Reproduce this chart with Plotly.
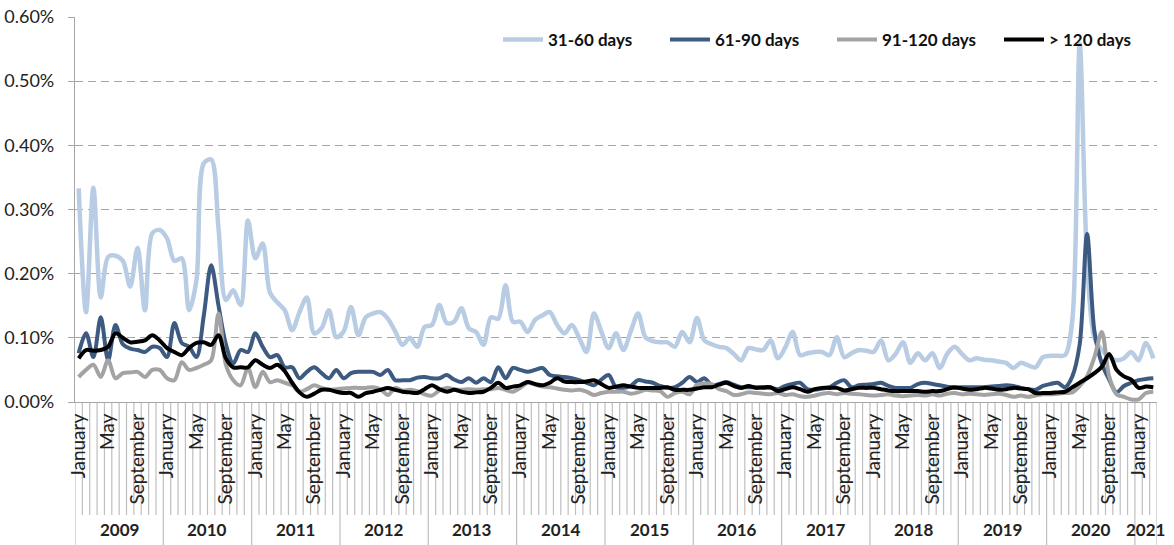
import plotly.graph_objects as go

# ---------------- data ----------------
years = list(range(2009, 2022))
month_names = ["January", "February", "March", "April", "May", "June", "July",
               "August", "September", "October", "November", "December"]
n_months = 147  # January 2009 .. March 2021

series_names = ["31-60 days", "61-90 days", "91-120 days", "> 120 days"]

d31_60 = [
    0.333, 0.140, 0.334, 0.163, 0.226, 0.228, 0.220, 0.180, 0.240, 0.143, 0.263, 0.268,
    0.255, 0.220, 0.224, 0.143, 0.190, 0.372, 0.378, 0.270, 0.159, 0.174, 0.151, 0.283,
    0.224, 0.247, 0.170, 0.155, 0.143, 0.112, 0.140, 0.163, 0.107, 0.115, 0.143, 0.101,
    0.110, 0.148, 0.104, 0.132, 0.138, 0.140, 0.130, 0.110, 0.089, 0.100, 0.086, 0.117,
    0.120, 0.151, 0.123, 0.125, 0.146, 0.115, 0.109, 0.089, 0.132, 0.130, 0.182, 0.125,
    0.125, 0.109, 0.128, 0.135, 0.140, 0.120, 0.107, 0.120, 0.100, 0.078, 0.138, 0.110,
    0.084, 0.107, 0.081, 0.110, 0.138, 0.101, 0.095, 0.093, 0.093, 0.086, 0.109, 0.093,
    0.131, 0.096, 0.090, 0.086, 0.084, 0.075, 0.065, 0.084, 0.082, 0.081, 0.096, 0.068,
    0.085, 0.109, 0.073, 0.076, 0.078, 0.078, 0.073, 0.101, 0.070, 0.076, 0.081, 0.080,
    0.078, 0.096, 0.065, 0.075, 0.093, 0.061, 0.076, 0.065, 0.076, 0.053, 0.075, 0.086,
    0.075, 0.065, 0.068, 0.066, 0.065, 0.063, 0.061, 0.053, 0.061, 0.057, 0.054, 0.070,
    0.072, 0.072, 0.073, 0.128, 0.558, 0.220, 0.100, 0.081, 0.070, 0.065, 0.068, 0.078,
    0.065, 0.092, 0.068,
]

d61_90 = [
    0.076, 0.107, 0.070, 0.132, 0.065, 0.120, 0.090, 0.083, 0.081, 0.078, 0.086, 0.084,
    0.070, 0.123, 0.092, 0.086, 0.070, 0.135, 0.213, 0.150, 0.090, 0.060, 0.081, 0.078,
    0.107, 0.086, 0.070, 0.073, 0.054, 0.054, 0.037, 0.047, 0.054, 0.045, 0.037, 0.050,
    0.037, 0.045, 0.047, 0.047, 0.047, 0.042, 0.050, 0.034, 0.034, 0.034, 0.038, 0.039,
    0.037, 0.037, 0.042, 0.035, 0.031, 0.037, 0.030, 0.037, 0.031, 0.054, 0.037, 0.053,
    0.050, 0.047, 0.050, 0.053, 0.042, 0.040, 0.039, 0.037, 0.034, 0.030, 0.026, 0.035,
    0.042, 0.023, 0.022, 0.025, 0.034, 0.032, 0.030, 0.025, 0.022, 0.023, 0.030, 0.039,
    0.031, 0.037, 0.026, 0.028, 0.031, 0.027, 0.023, 0.023, 0.023, 0.022, 0.022, 0.020,
    0.025, 0.028, 0.030, 0.020, 0.019, 0.021, 0.023, 0.030, 0.034, 0.023, 0.026, 0.027,
    0.028, 0.030, 0.025, 0.022, 0.022, 0.022, 0.028, 0.030, 0.028, 0.026, 0.024, 0.022,
    0.023, 0.023, 0.023, 0.023, 0.024, 0.025, 0.026, 0.025, 0.022, 0.020, 0.019, 0.025,
    0.028, 0.030, 0.023, 0.040, 0.090, 0.262, 0.110, 0.060, 0.035, 0.015, 0.025, 0.030,
    0.034, 0.036, 0.037,
]

d91_120 = [
    0.039, 0.050, 0.058, 0.039, 0.065, 0.037, 0.045, 0.046, 0.047, 0.039, 0.050, 0.050,
    0.037, 0.034, 0.062, 0.050, 0.053, 0.058, 0.065, 0.138, 0.058, 0.034, 0.026, 0.053,
    0.023, 0.047, 0.031, 0.034, 0.030, 0.026, 0.016, 0.020, 0.026, 0.022, 0.019, 0.020,
    0.021, 0.022, 0.022, 0.022, 0.023, 0.020, 0.011, 0.022, 0.018, 0.019, 0.017, 0.012,
    0.010, 0.018, 0.022, 0.020, 0.019, 0.020, 0.019, 0.020, 0.020, 0.022, 0.019, 0.016,
    0.022, 0.030, 0.027, 0.024, 0.023, 0.021, 0.019, 0.018, 0.019, 0.016, 0.011, 0.014,
    0.016, 0.016, 0.016, 0.013, 0.015, 0.019, 0.018, 0.017, 0.008, 0.014, 0.016, 0.012,
    0.027, 0.029, 0.028, 0.020, 0.017, 0.011, 0.012, 0.015, 0.014, 0.013, 0.012, 0.014,
    0.011, 0.012, 0.009, 0.008, 0.010, 0.013, 0.014, 0.012, 0.014, 0.013, 0.012, 0.011,
    0.010, 0.011, 0.012, 0.010, 0.009, 0.010, 0.011, 0.010, 0.012, 0.010, 0.013, 0.014,
    0.012, 0.013, 0.012, 0.011, 0.012, 0.013, 0.011, 0.008, 0.010, 0.008, 0.010, 0.012,
    0.012, 0.013, 0.014, 0.015, 0.025, 0.040, 0.070, 0.109, 0.040, 0.012, 0.008, 0.004,
    0.004, 0.014, 0.016,
]

d120_plus = [
    0.068, 0.081, 0.080, 0.081, 0.086, 0.107, 0.100, 0.093, 0.094, 0.096, 0.104, 0.096,
    0.084, 0.078, 0.073, 0.084, 0.092, 0.093, 0.089, 0.104, 0.068, 0.054, 0.054, 0.054,
    0.065, 0.058, 0.053, 0.058, 0.048, 0.030, 0.015, 0.008, 0.013, 0.019, 0.019, 0.016,
    0.014, 0.014, 0.008, 0.014, 0.016, 0.019, 0.022, 0.019, 0.016, 0.015, 0.014, 0.020,
    0.026, 0.020, 0.016, 0.019, 0.016, 0.014, 0.015, 0.016, 0.022, 0.030, 0.022, 0.024,
    0.026, 0.031, 0.028, 0.026, 0.030, 0.037, 0.032, 0.031, 0.031, 0.032, 0.034, 0.028,
    0.022, 0.024, 0.026, 0.024, 0.022, 0.022, 0.022, 0.022, 0.023, 0.019, 0.019, 0.019,
    0.021, 0.023, 0.023, 0.027, 0.030, 0.025, 0.022, 0.025, 0.022, 0.023, 0.023, 0.017,
    0.020, 0.023, 0.020, 0.016, 0.020, 0.022, 0.022, 0.022, 0.018, 0.020, 0.022, 0.022,
    0.022, 0.020, 0.018, 0.017, 0.017, 0.017, 0.017, 0.016, 0.017, 0.017, 0.020, 0.023,
    0.021, 0.019, 0.020, 0.022, 0.021, 0.019, 0.020, 0.022, 0.021, 0.020, 0.014, 0.014,
    0.014, 0.015, 0.016, 0.023, 0.030, 0.037, 0.045, 0.055, 0.075, 0.050, 0.040, 0.035,
    0.022, 0.024, 0.023,
]

colors = ["#B8CCE4", "#3D5A80", "#A3A3A3", "#000000"]
widths = [4.5, 4.0, 4.0, 4.0]

# month categories
categories = []
for k in range(n_months):
    y = years[0] + k // 12
    m = k % 12
    categories.append(f"{y}-{m + 1:02d}")

label_months = {0: "January", 4: "May", 8: "September"}
tick_vals = [c for k, c in enumerate(categories) if (k % 12) in label_months]
tick_text = [label_months[k % 12] for k in range(n_months) if (k % 12) in label_months]

FONT = "Lato"
AXIS_GREY = "#A6A6A6"
PLOT_H = 385.0

fig = go.Figure()
for name, vals, col, w in zip(series_names, [d31_60, d61_90, d91_120, d120_plus], colors, widths):
    fig.add_trace(go.Scatter(
        x=categories, y=vals, name=name, mode="lines",
        line=dict(color=col, width=w, shape="spline", smoothing=0.9),
    ))

# separators below the axis (month boundaries and year boundaries)
shapes = []
month_bottom = -(515 - 402) / PLOT_H
year_bottom = -(545 - 402) / PLOT_H
for k in range(n_months + 1):
    is_year = (k % 12 == 0) or k == n_months
    shapes.append(dict(
        type="line", xref="x", yref="paper",
        x0=k - 0.5, x1=k - 0.5, y0=0, y1=year_bottom if is_year else month_bottom,
        line=dict(color="#BFBFBF", width=1.2), layer="below",
    ))

annotations = []
for yi, yr in enumerate(years):
    start = yi * 12
    end = min(start + 12, n_months)
    if start >= n_months:
        break
    annotations.append(dict(
        x=(start + end - 1) / 2, y=-(529 - 402) / PLOT_H, xref="x", yref="paper",
        text=str(yr), showarrow=False, yanchor="middle",
        font=dict(family=FONT, size=17, color="#222222", weight="bold"),
    ))

fig.update_layout(
    template="none",
    width=1174, height=545,
    margin=dict(l=75, r=17, t=17, b=143, autoexpand=False),
    paper_bgcolor="white", plot_bgcolor="white",
    font=dict(family=FONT, color="#222222"),
    showlegend=True,
    legend=dict(
        orientation="h", x=(498 - 75) / 1082.0, xanchor="left",
        y=(402 - 40) / PLOT_H, yanchor="middle",
        font=dict(family=FONT, size=17, color="#111111", weight="bold"),
        bgcolor="rgba(255,255,255,0)", entrywidth=112, entrywidthmode="pixels",
        itemwidth=40,
    ),
    shapes=shapes,
    annotations=annotations,
    xaxis=dict(
        type="category", categoryorder="array", categoryarray=categories,
        range=[-0.5, n_months - 0.5], automargin=False,
        tickmode="array", tickvals=tick_vals, ticktext=tick_text,
        tickangle=-90, ticks="", showgrid=False, zeroline=False,
        showline=True, linecolor=AXIS_GREY, linewidth=1.3,
        tickfont=dict(family=FONT, size=19, color="#222222"),
        ticklabelstandoff=3,
    ),
    yaxis=dict(
        range=[0, 0.6], dtick=0.1, tick0=0, tickformat=".2f", ticksuffix="%",
        automargin=False,
        showgrid=True, gridcolor=AXIS_GREY, gridwidth=1.3, griddash="8px,5px",
        zeroline=False, showline=True, linecolor=AXIS_GREY, linewidth=1.3,
        ticks="outside", ticklen=6, tickcolor=AXIS_GREY,
        tickfont=dict(family=FONT, size=18, color="#222222"),
        ticklabelstandoff=10,
    ),
)

fig.write_html(
    "out.html",
    config={"displayModeBar": False},
    post_script="document.body.style.margin='0px';document.body.style.overflow='hidden';",
)
